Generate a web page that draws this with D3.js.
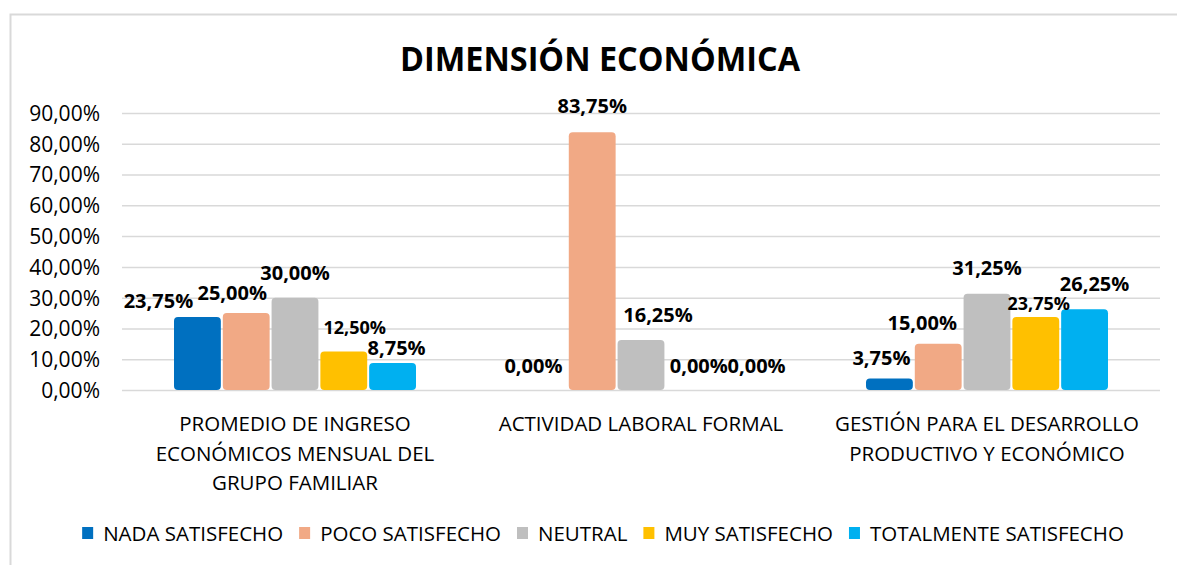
<!DOCTYPE html>
<html>
<head>
<meta charset="utf-8">
<script src="https://cdn.jsdelivr.net/npm/d3@7"></script>
<style>
  html, body { margin: 0; padding: 0; background: #ffffff; }
  svg { display: block; }
  text { font-family: "Open Sans", "DejaVu Sans", sans-serif; fill: #000; }
</style>
</head>
<body>
<svg id="chart" width="1177" height="565"></svg>
<script>
// ---------- DATA ----------
const title = "DIMENSIÓN ECONÓMICA";
const categories = [
  ["PROMEDIO DE INGRESO", "ECONÓMICOS MENSUAL DEL", "GRUPO FAMILIAR"],
  ["ACTIVIDAD LABORAL FORMAL"],
  ["GESTIÓN PARA EL DESARROLLO", "PRODUCTIVO Y ECONÓMICO"]
];
const seriesNames = ["NADA SATISFECHO", "POCO SATISFECHO", "NEUTRAL", "MUY SATISFECHO", "TOTALMENTE SATISFECHO"];
const nadaSatisfecho = [0.2375, 0.0000, 0.0375];
const pocoSatisfecho = [0.2500, 0.8375, 0.1500];
const neutral = [0.3000, 0.1625, 0.3125];
const muySatisfecho = [0.1250, 0.0000, 0.2375];
const totalmenteSatisfecho = [0.0875, 0.0000, 0.2625];
const yTicks = [0, 0.1, 0.2, 0.3, 0.4, 0.5, 0.6, 0.7, 0.8, 0.9];

// ---------- STYLE / LAYOUT ----------
const colors = ["#0070C0", "#F1A985", "#BFBFBF", "#FFC000", "#00B0F0"];
// manual label nudges (as placed in the original), per series per category
const labelDx = [
  [-39, -10, -8],
  [-14, 0, -16],
  [0, 17, 0],
  [11, 9, 3],
  [4, 18, 10]
];
const labelRise = [
  [9, 17, 13],
  [13, 19, 14],
  [18, 18, 19],
  [18, 17, 7],
  [8, 17, 18]
];
const labelSize = [
  [20, 20, 20],
  [20, 20, 20],
  [20, 20, 20],
  [18, 20, 18],
  [20, 20, 20]
];

const values = [nadaSatisfecho, pocoSatisfecho, neutral, muySatisfecho, totalmenteSatisfecho];
const fmt = v => d3.format(".2f")(v * 100).replace(".", ",") + "%";

const svg = d3.select("#chart");
const plot = { left: 122, right: 1160, top: 113, bottom: 390 };

// frame
svg.append("rect")
  .attr("x", 10.5).attr("y", 14.5)
  .attr("width", 1200).attr("height", 700)
  .attr("fill", "none").attr("stroke", "#d9d9d9").attr("stroke-width", 2);

// title
svg.append("text")
  .attr("x", 600).attr("y", 71)
  .attr("text-anchor", "middle")
  .attr("font-size", 34).attr("font-weight", 700)
  .attr("textLength", 400).attr("lengthAdjust", "spacingAndGlyphs")
  .text(title);

const y = d3.scaleLinear().domain([0, 0.9]).range([plot.bottom, plot.top]);
const x0 = d3.scaleBand().domain(d3.range(categories.length)).range([plot.left, plot.right]).padding(0);
const groupW = 242;
const x1 = d3.scaleBand().domain(d3.range(seriesNames.length)).range([0, groupW]).paddingInner(0.04);

// gridlines + tick labels
const yAxis = d3.axisLeft(y).tickValues(yTicks).tickSize(-(plot.right - plot.left)).tickFormat(fmt);
const gy = svg.append("g").attr("transform", `translate(${plot.left},0)`).call(yAxis);
gy.select(".domain").remove();
gy.selectAll(".tick line").attr("stroke", "#d9d9d9").attr("stroke-width", 1.5);
gy.selectAll(".tick text")
  .attr("x", -22).attr("dy", "0.35em")
  .attr("font-size", 21)
  .attr("font-family", '"Open Sans", sans-serif')
  .attr("fill", "#000");

// bars
const groups = svg.append("g").selectAll("g")
  .data(categories.map((c, i) => i))
  .join("g")
  .attr("transform", i => `translate(${x0(i) + x0.bandwidth() / 2 - groupW / 2},0)`);

groups.selectAll("rect")
  .data(i => seriesNames.map((s, k) => ({ k, i, v: values[k][i] })))
  .join("rect")
  .attr("x", d => x1(d.k))
  .attr("width", x1.bandwidth())
  .attr("y", d => y(d.v))
  .attr("height", d => Math.max(0, y(0) - y(d.v)))
  .attr("rx", d => Math.min(4, (y(0) - y(d.v)) / 2))
  .attr("fill", d => colors[d.k]);

// labels
groups.selectAll("text.lbl")
  .data(i => seriesNames.map((s, k) => ({ k, i, v: values[k][i] })))
  .join("text")
  .attr("class", "lbl")
  .attr("x", d => x1(d.k) + x1.bandwidth() / 2 + labelDx[d.k][d.i])
  .attr("y", d => y(d.v) - labelRise[d.k][d.i])
  .attr("text-anchor", "middle")
  .attr("font-size", d => labelSize[d.k][d.i])
  .attr("font-weight", 700)
  .text(d => fmt(d.v));

// category labels
categories.forEach((lines, i) => {
  const t = svg.append("text")
    .attr("x", x0(i) + x0.bandwidth() / 2)
    .attr("y", 431)
    .attr("text-anchor", "middle")
    .attr("font-size", 20.5);
  lines.forEach((ln, j) => {
    t.append("tspan").attr("x", x0(i) + x0.bandwidth() / 2).attr("dy", j === 0 ? 0 : 29.5).text(ln);
  });
});

// legend
const leg = svg.append("g");
let cx = 0;
seriesNames.forEach((name, k) => {
  const g = leg.append("g");
  g.append("rect").attr("x", cx).attr("y", -14).attr("width", 11).attr("height", 12).attr("fill", colors[k]);
  const t = g.append("text").attr("x", cx + 21).attr("y", 0).attr("font-size", 20.5).text(name);
  const w = t.node().getComputedTextLength();
  cx += 21 + w + 16;
});
const legW = cx - 16;
leg.attr("transform", `translate(${603 - legW / 2},541)`);
</script>
</body>
</html>
